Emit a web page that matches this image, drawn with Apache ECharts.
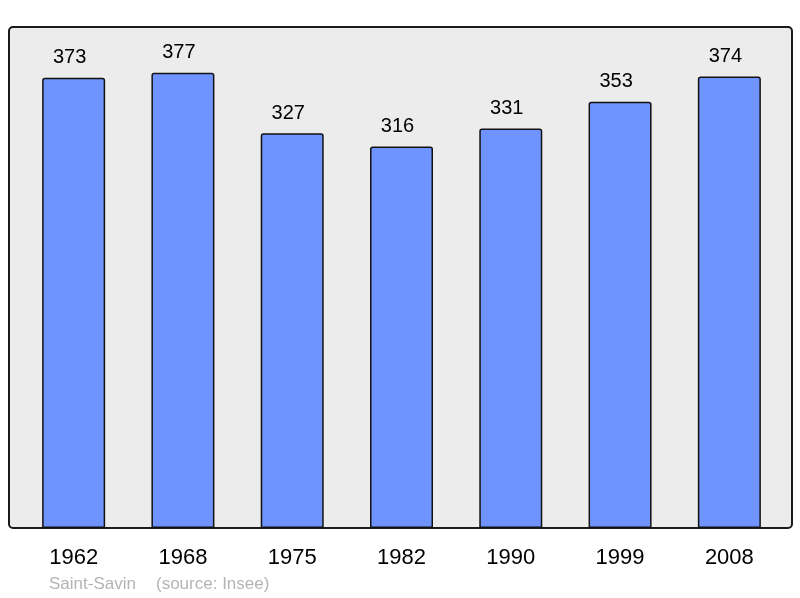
<!DOCTYPE html>
<html>
<head>
<meta charset="utf-8">
<script src="https://cdn.jsdelivr.net/npm/echarts@6/dist/echarts.min.js"></script>
<style>
  html, body { margin: 0; padding: 0; background: #fff; }
  #chart { width: 800px; height: 598px; }
</style>
</head>
<body>
<div id="chart"></div>
<script>
const years = ['1962', '1968', '1975', '1982', '1990', '1999', '2008']
const population = [373, 377, 327, 316, 331, 353, 374]
const place = 'Saint-Savin'
const source = '(source: Insee)'

const font = '"Liberation Sans", Arial, sans-serif'
const chart = echarts.init(document.getElementById('chart'))

chart.setOption({
  backgroundColor: '#ffffff',
  animation: false,
  grid: { left: 19, right: 16, top: 27, bottom: 70 },
  graphic: [
    {
      type: 'rect',
      z: -10,
      shape: { x: 9, y: 27, width: 783, height: 501, r: 4 },
      style: { fill: '#ececec', stroke: '#1a1a1a', lineWidth: 2 }
    },
    {
      type: 'text',
      left: 49,
      top: 576,
      style: { text: place, fill: '#b4b4b4', font: '17px ' + font }
    },
    {
      type: 'text',
      left: 156,
      top: 576,
      style: { text: source, fill: '#b4b4b4', font: '17px ' + font }
    }
  ],
  xAxis: {
    type: 'category',
    data: years,
    axisLine: { show: false },
    axisTick: { show: false },
    axisLabel: {
      margin: 19,
      color: '#000',
      fontSize: 22,
      fontFamily: font
    }
  },
  yAxis: {
    type: 'value',
    min: 0,
    max: 415,
    show: false,
    splitLine: { show: false }
  },
  series: [
    {
      type: 'bar',
      barWidth: 63,
      data: population,
      itemStyle: {
        color: '#7094ff',
        borderColor: '#111',
        borderWidth: 1.5,
        borderRadius: [2, 2, 0, 0]
      },
      label: {
        show: true,
        position: 'top',
        distance: 10,
        offset: [-4, 0],
        color: '#000',
        fontSize: 20,
        fontFamily: font
      }
    }
  ]
})
</script>
</body>
</html>
